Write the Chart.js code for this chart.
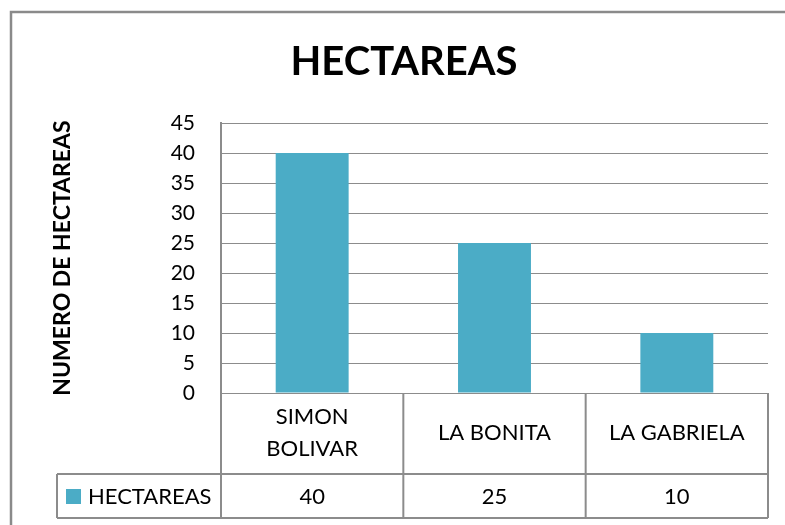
<!DOCTYPE html>
<html>
<head>
<meta charset="utf-8">
<script src="https://cdn.jsdelivr.net/npm/chart.js@4.4.1/dist/chart.umd.min.js"></script>
<style>
  html, body { margin: 0; padding: 0; background: #fff; }
  #wrap { width: 785px; height: 525px; position: relative; }
</style>
</head>
<body>
<div id="wrap"><canvas id="chart"></canvas></div>
<script>
// datos del grafico
const chartTitle = 'HECTAREAS';
const axisTitle = 'NUMERO DE HECTAREAS';
const seriesName = 'HECTAREAS';
const categories = [['SIMON', 'BOLIVAR'], 'LA BONITA', 'LA GABRIELA'];
const hectareas = [40, 25, 10];
const yMax = 45;
const yStep = 5;

const barColor = '#4BACC6';
const lineColor = '#8c8c8c';
const fontFamily = 'Lato, "Open Sans", sans-serif';
const valueRowHeight = 44;
const tableLeft = 57;

/**
 * Marco exterior del grafico (solo se ve el borde izquierdo y superior).
 */
const outerFrame = {
    id: 'outerFrame',
    beforeDraw(chart) {
        const ctx = chart.ctx;
        ctx.save();
        ctx.strokeStyle = '#8a8a8a';
        ctx.lineWidth = 2.5;
        ctx.beginPath();
        ctx.moveTo(11, chart.height + 5);
        ctx.lineTo(11, 12);
        ctx.lineTo(chart.width + 5, 12);
        ctx.stroke();
        ctx.restore();
    }
};

/**
 * Tabla de datos debajo del eje X: lineas, valores y leyenda.
 */
const dataTable = {
    id: 'dataTable',
    afterDraw(chart) {
        const ctx = chart.ctx;
        const x = chart.scales.x;
        const top = x.top;
        const bottom = x.bottom;
        const rowTop = bottom - valueRowHeight;
        const half = (x.getPixelForValue(1) - x.getPixelForValue(0)) / 2;

        ctx.save();
        ctx.strokeStyle = lineColor;
        ctx.lineWidth = 2;
        ctx.beginPath();
        // horizontales
        ctx.moveTo(tableLeft, rowTop); ctx.lineTo(x.right, rowTop);
        ctx.moveTo(tableLeft, bottom); ctx.lineTo(x.right, bottom);
        // verticales
        ctx.moveTo(tableLeft, rowTop); ctx.lineTo(tableLeft, bottom);
        ctx.moveTo(x.left, top); ctx.lineTo(x.left, bottom);
        hectareas.forEach((v, i) => {
            const edge = x.getPixelForValue(i) + half;
            ctx.moveTo(edge, top); ctx.lineTo(edge, bottom);
        });
        ctx.stroke();

        // valores
        ctx.fillStyle = '#000';
        ctx.font = `22px ${fontFamily}`;
        ctx.textAlign = 'center';
        ctx.textBaseline = 'middle';
        const midY = (rowTop + bottom) / 2 + 1;
        hectareas.forEach((v, i) => {
            ctx.fillText(String(v), x.getPixelForValue(i), midY);
        });

        // leyenda
        ctx.fillStyle = chart.data.datasets[0].backgroundColor;
        ctx.fillRect(tableLeft + 9, midY - 8, 15, 15);
        ctx.fillStyle = '#000';
        ctx.textAlign = 'left';
        ctx.fillText(seriesName, tableLeft + 31, midY);
        ctx.restore();
    }
};

new Chart(document.getElementById('chart'), {
    type: 'bar',
    data: {
        labels: categories,
        datasets: [{
            label: seriesName,
            data: hectareas,
            backgroundColor: barColor,
            borderWidth: 0,
            barPercentage: 0.4,
            categoryPercentage: 1
        }]
    },
    options: {
        responsive: true,
        maintainAspectRatio: false,
        animation: false,
        layout: { padding: { left: 40, right: 17, top: 12, bottom: 7 } },
        plugins: {
            legend: { display: false },
            tooltip: { enabled: false },
            title: {
                display: true,
                text: chartTitle,
                color: '#000',
                font: { family: fontFamily, size: 40, weight: 'bold' },
                padding: { top: 26, bottom: 37 }
            }
        },
        scales: {
            y: {
                min: 0,
                max: yMax,
                afterFit(scale) { scale.width = 181; },
                ticks: {
                    stepSize: yStep,
                    color: '#000',
                    padding: 26,
                    font: { family: fontFamily, size: 21 }
                },
                grid: { color: lineColor, lineWidth: 1, drawTicks: false },
                border: { display: true, color: lineColor, width: 2 },
                title: {
                    display: true,
                    text: axisTitle,
                    color: '#000',
                    font: { family: fontFamily, size: 23, weight: 'bold' },
                    padding: { top: 9, bottom: 0 }
                }
            },
            x: {
                afterFit(scale) { scale.height = 125; },
                ticks: {
                    color: '#000',
                    padding: 24,
                    crossAlign: 'center',
                    maxRotation: 0,
                    autoSkip: false,
                    font: { family: fontFamily, size: 22, lineHeight: 1.45 }
                },
                grid: { display: false, drawTicks: false },
                border: { display: false }
            }
        }
    },
    plugins: [outerFrame, dataTable]
});
</script>
</body>
</html>
